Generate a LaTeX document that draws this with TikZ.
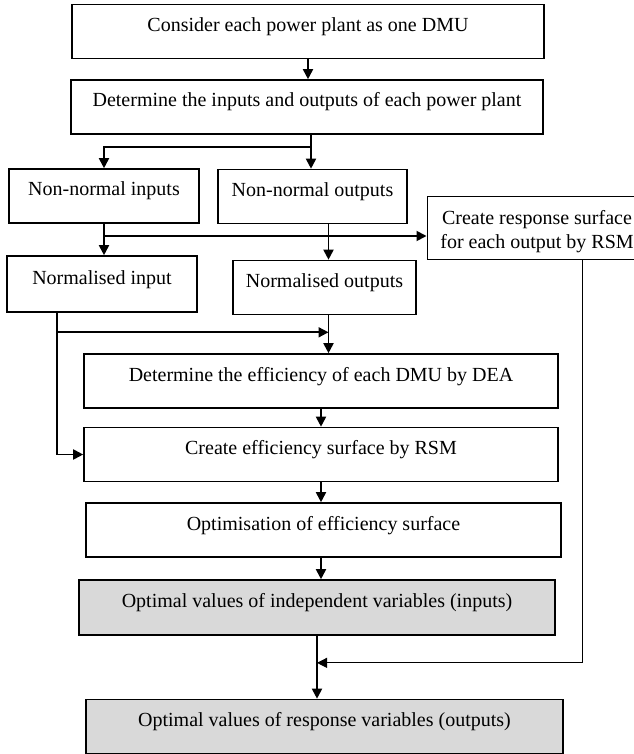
\documentclass[tikz,border=0pt]{standalone}
\usepackage{fontspec}
\setmainfont{Liberation Serif}
\usepackage{xcolor}
\definecolor{PanelGrey}{HTML}{D9D9D9}
\usepackage{tikz}
\usetikzlibrary{arrows.meta,calc}

\begin{document}
\begin{tikzpicture}[
  x=0.5pt, y=-0.5pt,
  font=\normalsize,
  box/.style={draw, line width=0.8pt, inner xsep=2pt, inner ysep=0pt,
              text height=10pt, text depth=10pt, minimum height=27pt},
  shaded/.style={box, fill=PanelGrey},
  note/.style={draw, line width=0.5pt, align=center, inner sep=0pt,
               minimum height=31pt},
  arr/.style={-{Triangle[length=5pt,width=5pt]}, line width=0.9pt},
  thinarr/.style={-{Triangle[length=5pt,width=5pt]}, line width=0.5pt}
]
  \useasboundingbox (0,0) rectangle (633,754);
  \node[box, minimum width=236pt] (dmu) at (308,31.5)
    {Consider each power plant as one DMU};
  \node[box, minimum width=236pt] (io) at (307,107)
    {Determine the inputs and outputs of each power plant};
  \node[box, minimum width=95pt] (nni) at (104,196) {Non-normal inputs};
  \node[box, minimum width=94.5pt] (nno) at (312.5,196.5) {Non-normal outputs};
  \node[note, minimum width=110pt] (rsm) at (537,228)
    {\rule{0pt}{11pt}Create response surface\\for each output by RSM};
  \node[box, minimum width=95pt, minimum height=28pt] (ni) at (102,284)
    {Normalised input};
  \node[box, minimum width=91.5pt] (no) at (324.5,287.5) {Normalised outputs};
  \node[box, minimum width=237pt] (dea) at (321,381)
    {Determine the efficiency of each DMU by DEA};
  \node[box, minimum width=237pt] (eff) at (321,454.5)
    {Create efficiency surface by RSM};
  \node[box, minimum width=237.5pt] (opt) at (323.5,530)
    {Optimisation of efficiency surface};
  \node[shaded, minimum width=238pt, minimum height=27.5pt] (xin) at (317,607.5)
    {Optimal values of independent variables (inputs)};
  \node[shaded, minimum width=238.5pt] (yout) at (324.5,726.5)
    {Optimal values of response variables (outputs)};

  \coordinate (join) at ($(no.south)+(4,17)$);
  \coordinate (merge) at ($(xin.south)!0.43!(xin.south |- yout.north)$);

  \draw[arr] (dmu.south) -- (dmu.south |- io.north);
  \draw[arr] ([xshift=2pt]io.south) -- ([xshift=2pt]io.south |- nno.north);
  \draw[arr] ($(io.south)+(4,12)$) -| (nni.north);
  \draw[arr] (nni.south) -- (nni.south |- ni.north);
  \draw[arr] ([xshift=2pt]no.north |- nno.south) -- ([xshift=2pt]no.north);
  \draw[arr] ([yshift=-4pt]rsm.west -| nni.south) -- ([yshift=-4pt]rsm.west);
  \draw[arr] ([xshift=-22.5pt]ni.south) |- (eff.west);
  \draw[arr] ([xshift=-22.5pt]ni.south |- join) -- (join);
  \draw[arr] ([xshift=2pt]no.south) -- ([xshift=2pt]no.south |- dea.north);
  \draw[arr] (dea.south) -- (dea.south |- eff.north);
  \draw[arr] (eff.south) -- (eff.south |- opt.north);
  \draw[arr] (eff.south |- opt.south) -- (eff.south |- xin.north);
  \draw[arr] (xin.south) -- (xin.south |- yout.north);
  \draw[thinarr] ([xshift=22.5pt]rsm.south) |- (merge);
\end{tikzpicture}
\end{document}
